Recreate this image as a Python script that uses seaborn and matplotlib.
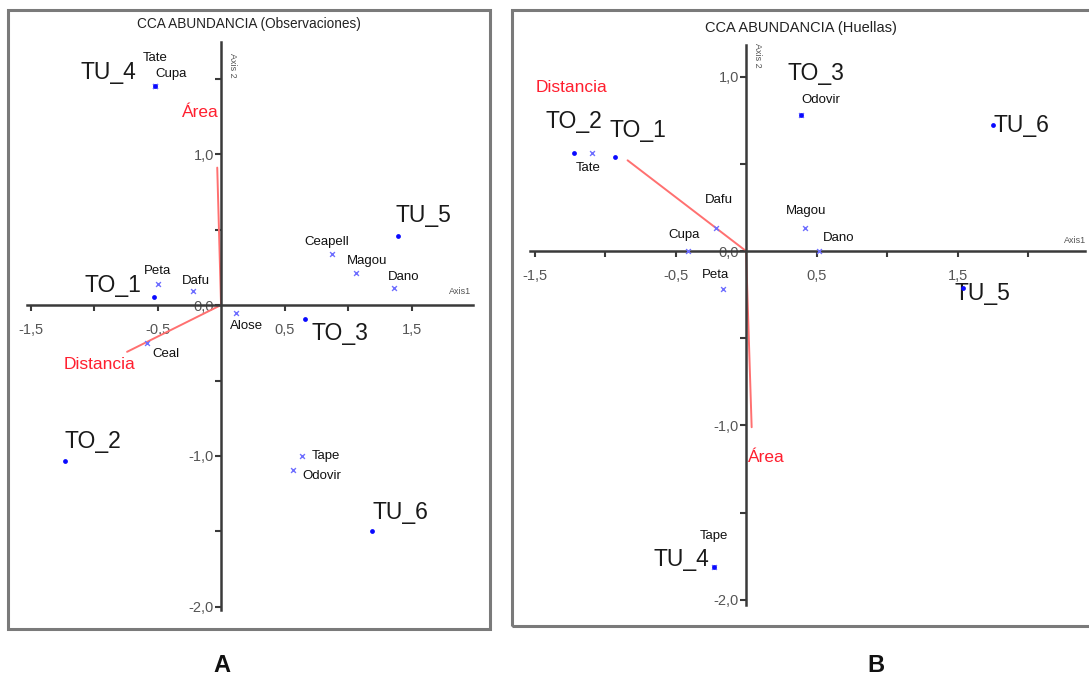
import matplotlib
matplotlib.use("Agg")
import matplotlib.pyplot as plt
import matplotlib.patches as mpatches
import seaborn as sns
import pandas as pd

# ---------------- data ----------------
# Panel A (Observaciones)
a_sites = ["TU_4", "TO_1", "TO_3", "TU_5", "TO_2", "TU_6"]
a_site_x = [-0.52, -0.53, 0.66, 1.39, -1.23, 1.19]
a_site_y = [1.45, 0.05, -0.09, 0.46, -1.03, -1.50]

a_species = ["Tate", "Cupa", "Peta", "Dafu", "Ceal", "Alose", "Ceapell", "Magou", "Dano", "Tape", "Odovir"]
a_sp_x = [-0.52, -0.52, -0.50, -0.22, -0.58, 0.12, 0.87, 1.06, 1.36, 0.64, 0.57]
a_sp_y = [1.45, 1.45, 0.14, 0.09, -0.25, -0.05, 0.34, 0.21, 0.11, -1.00, -1.09]

a_vectors = ["Área", "Distancia"]
a_vec_x = [-0.03, -0.74]
a_vec_y = [0.91, -0.31]

# Panel B (Huellas)
b_sites = ["TO_2", "TO_1", "TO_3", "TU_6", "TU_5", "TU_4"]
b_site_x = [-1.22, -0.93, 0.39, 1.75, 1.54, -0.23]
b_site_y = [0.56, 0.54, 0.78, 0.72, -0.21, -1.81]

b_species = ["Tate", "Odovir", "Dafu", "Magou", "Dano", "Cupa", "Peta", "Tape"]
b_sp_x = [-1.09, 0.39, -0.21, 0.42, 0.52, -0.41, -0.16, -0.23]
b_sp_y = [0.56, 0.78, 0.13, 0.13, 0.00, 0.00, -0.22, -1.81]

b_vectors = ["Distancia", "Área"]
b_vec_x = [-0.84, 0.04]
b_vec_y = [0.52, -1.01]

x_ticks = [-1.5, -1.0, -0.5, 0.5, 1.0, 1.5, 2.0]
x_ticklabels = ["-1,5", "", "-0,5", "0,5", "", "1,5", ""]
y_ticks = [1.5, 1.0, 0.5, 0.0, -0.5, -1.0, -1.5, -2.0]
y_ticklabels = ["", "1,0", "", "0,0", "", "-1,0", "", "-2,0"]

# label offsets (pixels) -- styling only
a_site_off = {"TU_4": (-47, 14), "TO_1": (-41, 12), "TO_3": (35, -15), "TU_5": (26, 20),
              "TO_2": (28, 19), "TU_6": (28, 19)}
a_sp_off = {"Tate": (0, 28), "Cupa": (16, 12), "Peta": (0, 13), "Dafu": (3, 10), "Ceal": (19, -11),
            "Alose": (10, -13), "Ceapell": (-5, 12), "Magou": (11, 12), "Dano": (10, 11),
            "Tape": (24, 0), "Odovir": (28, -6)}
a_vec_off = {"Área": (-17, 55), "Distancia": (-28, -13)}
b_site_off = {"TO_2": (0, 32), "TO_1": (23, 26), "TO_3": (15, 41), "TU_6": (29, 0),
              "TU_5": (19, -6), "TU_4": (-32, 7)}
b_sp_off = {"Tate": (-4, -15), "Odovir": (20, 15), "Dafu": (2, 28), "Magou": (1, 17), "Dano": (19, 13),
            "Cupa": (-4, 16), "Peta": (-8, 14), "Tape": (0, 31)}
b_vec_off = {"Distancia": (-56, 73), "Área": (15, -30)}

# ---------------- style ----------------
sns.set_theme(style="white")
plt.rcParams["font.family"] = ["Liberation Sans", "DejaVu Sans"]

W, H = 1089, 681
fig = plt.figure(figsize=(W / 100, H / 100), dpi=100)
fig.patch.set_facecolor("white")


def fig_rect(x0, y0, x1, y1):
    return [x0 / W, 1 - y1 / H, (x1 - x0) / W, (y1 - y0) / H]


# panel frames
for (x0, y0, x1, y1) in [(8, 10, 490, 629), (512, 10, 1093, 626)]:
    fig.patches.append(mpatches.Rectangle((x0 / W, 1 - y1 / H), (x1 - x0) / W, (y1 - y0) / H,
                                          transform=fig.transFigure, fill=False,
                                          edgecolor="#7a7a7a", linewidth=2.2, zorder=0))

axA = fig.add_axes(fig_rect(27, 42, 473, 610))
axB = fig.add_axes(fig_rect(530, 45, 1085, 605))

SITE_C = "#0a0aff"
SP_C = "#6f6fff"
RED_LINE = "#ff7070"
RED_TXT = "#ff1f2f"


def draw_panel(ax, xlim, ylim, sites, sx, sy, species, px, py, vecs, vx, vy,
               site_off, sp_off, vec_off, axis1_pos, axis2_pos):
    ax.set_facecolor("none")

    # environmental vectors
    for name, x, y in zip(vecs, vx, vy):
        ax.plot([0, x], [0, y], color=RED_LINE, lw=1.4, zorder=2)

    sp_df = pd.DataFrame({"x": px, "y": py, "name": species})
    site_df = pd.DataFrame({"x": sx, "y": sy, "name": sites})
    sns.scatterplot(data=sp_df, x="x", y="y", ax=ax, marker="x", s=12, color=SP_C,
                    linewidth=1.0, zorder=3, legend=False)
    sns.scatterplot(data=site_df, x="x", y="y", ax=ax, marker="o", s=12, color=SITE_C,
                    linewidth=0, zorder=4, legend=False)
    ax.set_xlabel("")
    ax.set_ylabel("")

    for s in ["top", "right"]:
        ax.spines[s].set_visible(False)
    for s in ["left", "bottom"]:
        ax.spines[s].set_position(("data", 0))
        ax.spines[s].set_color("#3a3a3a")
        ax.spines[s].set_linewidth(1.8)
    ax.set_xticks(x_ticks)
    ax.set_xticklabels(x_ticklabels)
    ax.set_yticks(y_ticks)
    ax.set_yticklabels(y_ticklabels)
    ax.tick_params(axis="both", direction="out", length=4, width=1.5, color="#3a3a3a",
                   labelsize=10.5, labelcolor="#555555")
    ax.tick_params(axis="x", pad=9)
    ax.tick_params(axis="y", pad=1)
    ax.xaxis.set_ticks_position("bottom")
    ax.yaxis.set_ticks_position("left")
    # limits last so that ticks outside the range do not expand the view
    ax.set_xlim(*xlim)
    ax.set_ylim(*ylim)

    for name, x, y in zip(vecs, vx, vy):
        ax.annotate(name, (x, y), xytext=vec_off[name], textcoords="offset pixels",
                    ha="center", va="center", fontsize=12.5, color=RED_TXT,
                    annotation_clip=False)
    for name, x, y in zip(species, px, py):
        ax.annotate(name, (x, y), xytext=sp_off[name], textcoords="offset pixels",
                    ha="center", va="center", fontsize=9.5, color="#111111",
                    annotation_clip=False)
    for name, x, y in zip(sites, sx, sy):
        ax.annotate(name, (x, y), xytext=site_off[name], textcoords="offset pixels",
                    ha="center", va="center", fontsize=16.5, color="#1a1a1a",
                    annotation_clip=False)

    ax.text(axis1_pos[0], axis1_pos[1], "Axis1", fontsize=6.5, color="#555555",
            ha="center", va="center")
    ax.text(axis2_pos[0], axis2_pos[1], "Axis 2", fontsize=6.5, color="#555555",
            ha="center", va="center", rotation=-90)


draw_panel(axA, (-1.528, 1.984), (-2.02, 1.742), a_sites, a_site_x, a_site_y,
           a_species, a_sp_x, a_sp_y, a_vectors, a_vec_x, a_vec_y,
           a_site_off, a_sp_off, a_vec_off, (1.88, 0.09), (0.09, 1.59))
draw_panel(axB, (-1.532, 2.404), (-2.029, 1.181), b_sites, b_site_x, b_site_y,
           b_species, b_sp_x, b_sp_y, b_vectors, b_vec_x, b_vec_y,
           b_site_off, b_sp_off, b_vec_off, (2.33, 0.06), (0.08, 1.12))

fig.text(249 / W, 1 - 24 / H, "CCA ABUNDANCIA (Observaciones)", ha="center", va="center",
         fontsize=9.8, color="#222222")
fig.text(801 / W, 1 - 28 / H, "CCA ABUNDANCIA (Huellas)", ha="center", va="center",
         fontsize=10.5, color="#222222")
fig.text(222 / W, 1 - 665 / H, "A", ha="center", va="center", fontsize=17,
         fontweight="bold", color="#111111")
fig.text(876 / W, 1 - 665 / H, "B", ha="center", va="center", fontsize=17,
         fontweight="bold", color="#111111")

fig.savefig("out.png", dpi=100, facecolor="white")
